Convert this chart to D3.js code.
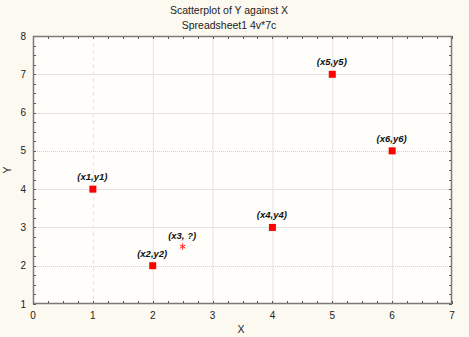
<!DOCTYPE html>
<html><head><meta charset="utf-8">
<script src="https://cdn.jsdelivr.net/npm/d3@7"></script>
<style>body{margin:0;background:#fcf9f0;}svg{display:block;}</style>
</head><body>
<svg id="c" width="469" height="337"></svg>
<script>
const pointsX = [1, 2, 4, 5, 6];
const pointsY = [4, 2, 3, 7, 5];
const pointLabels = ["(x1,y1)", "(x2,y2)", "(x4,y4)", "(x5,y5)", "(x6,y6)"];
const missingX = [2.5];
const missingY = [2.5];
const missingLabels = ["(x3, ?)"];
const xTicks = [0,1,2,3,4,5,6,7];
const yTicks = [1,2,3,4,5,6,7,8];
const titleLines = ["Scatterplot of Y against X", "Spreadsheet1 4v*7c"];

const svg = d3.select("#c");
const m = {l:33, r:452, t:36, b:304};
const x = d3.scaleLinear().domain([0,7]).range([m.l, m.r]);
const y = d3.scaleLinear().domain([1,8]).range([m.b, m.t]);
const font = "Arial, 'Liberation Sans', sans-serif";

svg.append("rect").attr("x",m.l).attr("y",m.t).attr("width",m.r-m.l).attr("height",m.b-m.t).attr("fill","#fffefa");

// grid
const dashedX = [1], dottedY = [2,5];
svg.append("g").selectAll("line").data(xTicks.slice(1,-1)).join("line")
  .attr("x1",d=>x(d)+0.5).attr("x2",d=>x(d)+0.5).attr("y1",m.t).attr("y2",m.b)
  .attr("stroke",d=>dashedX.includes(d)?"#e0e4e8":"#e2e2e2").attr("stroke-width",1)
  .attr("stroke-dasharray",d=>dashedX.includes(d)?"4,3":null);
svg.append("g").selectAll("line").data(yTicks.slice(1,-1)).join("line")
  .attr("y1",d=>Math.round(y(d))+0.5).attr("y2",d=>Math.round(y(d))+0.5).attr("x1",m.l).attr("x2",m.r)
  .attr("stroke",d=>dottedY.includes(d)?"#cdd3dc":"#e2e2e2").attr("stroke-width",1)
  .attr("stroke-dasharray",d=>dottedY.includes(d)?"1,1":null);

// minor ticks
const minorX = d3.range(0, 7.001, 0.25), minorY = d3.range(1, 8.001, 0.25);
const tk = svg.append("g").attr("stroke","#555").attr("stroke-width",1);
tk.selectAll(".bx").data(minorX).join("line").attr("x1",d=>Math.round(x(d))+0.5).attr("x2",d=>Math.round(x(d))+0.5).attr("y1",m.b).attr("y2",m.b-3);
tk.selectAll(".tx").data(minorX).join("line").attr("x1",d=>Math.round(x(d))+0.5).attr("x2",d=>Math.round(x(d))+0.5).attr("y1",m.t).attr("y2",m.t+3);
tk.selectAll(".ly").data(minorY).join("line").attr("y1",d=>Math.round(y(d))+0.5).attr("y2",d=>Math.round(y(d))+0.5).attr("x1",m.l).attr("x2",m.l+3);
tk.selectAll(".ry").data(minorY).join("line").attr("y1",d=>Math.round(y(d))+0.5).attr("y2",d=>Math.round(y(d))+0.5).attr("x1",m.r).attr("x2",m.r-3);

// frame
svg.append("rect").attr("x",m.l+0.5).attr("y",m.t+0.5).attr("width",m.r-m.l-1).attr("height",m.b-m.t-1)
  .attr("fill","none").attr("stroke","#7a7a7a").attr("stroke-width",1.5);

// tick labels
svg.append("g").selectAll("text").data(xTicks).join("text")
  .attr("x",d=>x(d)).attr("y",319).attr("text-anchor","middle")
  .attr("font-family",font).attr("font-size",10).attr("fill","#222").text(d=>d);
svg.append("g").selectAll("text").data(yTicks).join("text")
  .attr("x",26).attr("y",d=>y(d)+3.5).attr("text-anchor","end")
  .attr("font-family",font).attr("font-size",10).attr("fill","#222").text(d=>d);

// titles
svg.append("g").selectAll("text").data(titleLines).join("text")
  .attr("x",229).attr("y",(d,i)=>14+i*15).attr("text-anchor","middle")
  .attr("font-family",font).attr("font-size",10.5).attr("fill","#222").text(d=>d);
svg.append("text").attr("x",241).attr("y",333).attr("text-anchor","middle")
  .attr("font-family",font).attr("font-size",10.5).attr("fill","#222").text("X");
svg.append("text").attr("transform","translate(11,170) rotate(-90)").attr("text-anchor","middle")
  .attr("font-family",font).attr("font-size",10.5).attr("fill","#222").text("Y");

// points
const pts = pointsX.map((v,i)=>({x:v,y:pointsY[i],l:pointLabels[i]}));
svg.append("g").selectAll("rect").data(pts).join("rect")
  .attr("x",d=>x(d.x)-3.5).attr("y",d=>y(d.y)-3.5).attr("width",7).attr("height",7).attr("fill","#ff0000");
svg.append("g").selectAll("text").data(pts).join("text")
  .attr("x",d=>x(d.x)-0.5).attr("y",d=>y(d.y)-9).attr("text-anchor","middle")
  .attr("font-family",font).attr("font-size",9.5).attr("font-weight","bold").attr("font-style","italic")
  .attr("fill","#111").text(d=>d.l);

const miss = missingX.map((v,i)=>({x:v,y:missingY[i],l:missingLabels[i]}));
svg.append("g").selectAll("path").data(miss).join("path")
  .attr("transform",d=>`translate(${x(d.x)},${y(d.y)})`)
  .attr("d",d3.symbol(d3.symbolAsterisk, 28)).attr("fill","none").attr("stroke","#ff2020").attr("stroke-width",1);
svg.append("g").selectAll("text").data(miss).join("text")
  .attr("x",d=>x(d.x)-0.5).attr("y",d=>y(d.y)-8).attr("text-anchor","middle")
  .attr("font-family",font).attr("font-size",9.5).attr("font-weight","bold").attr("font-style","italic")
  .attr("fill","#111").text(d=>d.l);
</script>
</body></html>
